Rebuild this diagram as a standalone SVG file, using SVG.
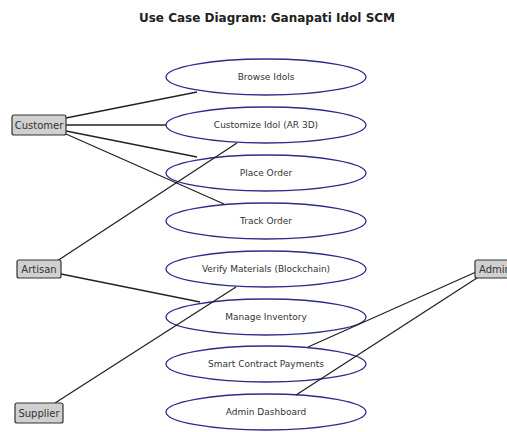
<svg xmlns="http://www.w3.org/2000/svg" width="507" height="432" viewBox="0 0 507 432">
<style>
.title{font-family:"DejaVu Sans",sans-serif;font-weight:bold;font-size:12px;fill:#222;text-anchor:middle}
.uc ellipse{fill:#fff;stroke:#2b2b8f;stroke-width:1.3}
.uc text{font-family:"DejaVu Sans",sans-serif;font-size:9px;fill:#333;text-anchor:middle;dominant-baseline:central}
.actor rect{fill:#d0d0d0;stroke:#333;stroke-width:1.2}
.actor text{font-family:"DejaVu Sans",sans-serif;font-size:10px;fill:#333;text-anchor:middle;dominant-baseline:central}
#connectors line{stroke:#222;stroke-width:1.3}
</style>
<rect width="507" height="432" fill="#fff"/>
<text class="title" x="267" y="22">Use Case Diagram: Ganapati Idol SCM</text>

<g id="uc-browse" class="uc"><ellipse cx="266" cy="77" rx="100" ry="18"/><text x="266" y="77">Browse Idols</text></g>
<g id="uc-customize" class="uc"><ellipse cx="266" cy="125" rx="100" ry="18"/><text x="266" y="125">Customize Idol (AR 3D)</text></g>
<g id="uc-place" class="uc"><ellipse cx="266" cy="173" rx="100" ry="18"/><text x="266" y="173">Place Order</text></g>
<g id="uc-track" class="uc"><ellipse cx="266" cy="221" rx="100" ry="18"/><text x="266" y="221">Track Order</text></g>
<g id="uc-verify" class="uc"><ellipse cx="266" cy="269" rx="100" ry="18"/><text x="266" y="269">Verify Materials (Blockchain)</text></g>
<g id="uc-inventory" class="uc"><ellipse cx="266" cy="317" rx="100" ry="18"/><text x="266" y="317">Manage Inventory</text></g>
<g id="uc-payments" class="uc"><ellipse cx="266" cy="364" rx="100" ry="18"/><text x="266" y="364">Smart Contract Payments</text></g>
<g id="uc-dashboard" class="uc"><ellipse cx="266" cy="412" rx="100" ry="18"/><text x="266" y="412">Admin Dashboard</text></g>

<g id="connectors">
<line x1="66" y1="118" x2="197" y2="92"/>
<line x1="66" y1="125" x2="166" y2="125"/>
<line x1="66" y1="131" x2="197" y2="157"/>
<line x1="66" y1="134" x2="224" y2="204"/>
<line x1="57" y1="261" x2="237" y2="143"/>
<line x1="61" y1="274" x2="200" y2="302"/>
<line x1="55" y1="403" x2="236" y2="287"/>
<line x1="476" y1="272" x2="308" y2="347"/>
<line x1="480" y1="276" x2="296" y2="395"/>
</g>

<g id="actor-customer" class="actor"><rect x="12" y="115" width="54" height="20" rx="2"/><text x="39" y="125">Customer</text></g>
<g id="actor-artisan" class="actor"><rect x="17" y="260" width="44" height="18" rx="2"/><text x="39" y="269">Artisan</text></g>
<g id="actor-supplier" class="actor"><rect x="15" y="403" width="48" height="20" rx="2"/><text x="39" y="413">Supplier</text></g>
<g id="actor-admin" class="actor"><rect x="475" y="260" width="40" height="18" rx="2"/><text x="495" y="269">Admin</text></g>
</svg>
